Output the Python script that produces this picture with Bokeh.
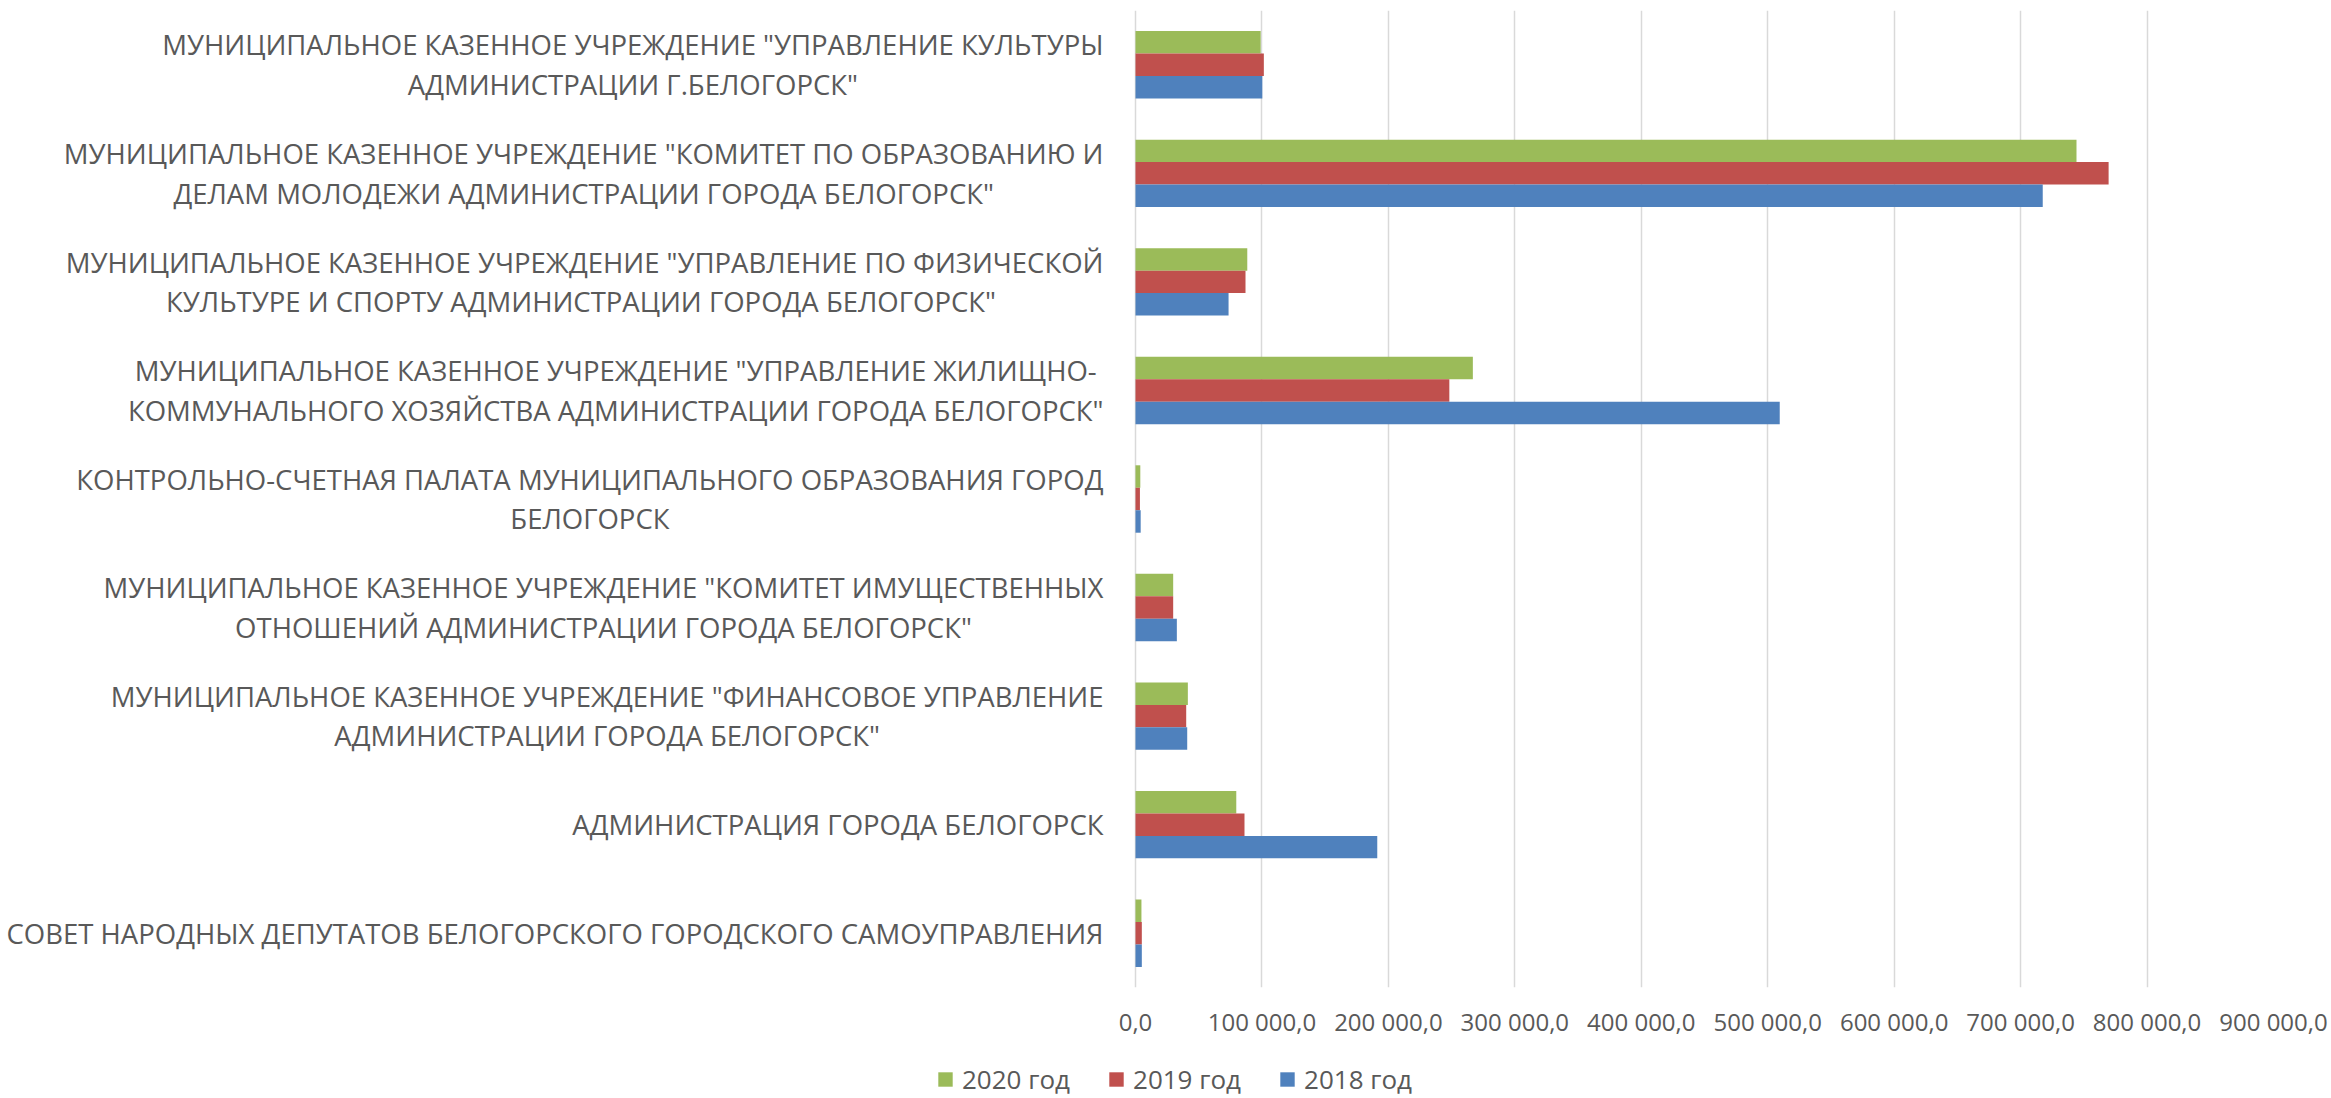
from bokeh.plotting import figure
from bokeh.models import Range1d, FixedTicker, Label, Legend, LegendItem, ColumnDataSource
from bokeh.layouts import column
from bokeh.embed import file_html
from bokeh.resources import INLINE

# ---- data (top to bottom) ----
categories = [
    'МУНИЦИПАЛЬНОЕ КАЗЕННОЕ УЧРЕЖДЕНИЕ "УПРАВЛЕНИЕ КУЛЬТУРЫ\nАДМИНИСТРАЦИИ Г.БЕЛОГОРСК"',
    'МУНИЦИПАЛЬНОЕ КАЗЕННОЕ УЧРЕЖДЕНИЕ "КОМИТЕТ ПО ОБРАЗОВАНИЮ И\nДЕЛАМ МОЛОДЕЖИ АДМИНИСТРАЦИИ ГОРОДА БЕЛОГОРСК"',
    'МУНИЦИПАЛЬНОЕ КАЗЕННОЕ УЧРЕЖДЕНИЕ "УПРАВЛЕНИЕ ПО ФИЗИЧЕСКОЙ\nКУЛЬТУРЕ И СПОРТУ  АДМИНИСТРАЦИИ ГОРОДА БЕЛОГОРСК"',
    'МУНИЦИПАЛЬНОЕ КАЗЕННОЕ УЧРЕЖДЕНИЕ "УПРАВЛЕНИЕ ЖИЛИЩНО-\nКОММУНАЛЬНОГО ХОЗЯЙСТВА АДМИНИСТРАЦИИ ГОРОДА БЕЛОГОРСК"',
    'КОНТРОЛЬНО-СЧЕТНАЯ ПАЛАТА МУНИЦИПАЛЬНОГО ОБРАЗОВАНИЯ ГОРОД\nБЕЛОГОРСК',
    'МУНИЦИПАЛЬНОЕ КАЗЕННОЕ УЧРЕЖДЕНИЕ "КОМИТЕТ ИМУЩЕСТВЕННЫХ\nОТНОШЕНИЙ АДМИНИСТРАЦИИ ГОРОДА БЕЛОГОРСК"',
    'МУНИЦИПАЛЬНОЕ КАЗЕННОЕ УЧРЕЖДЕНИЕ "ФИНАНСОВОЕ УПРАВЛЕНИЕ\nАДМИНИСТРАЦИИ ГОРОДА БЕЛОГОРСК"',
    'АДМИНИСТРАЦИЯ ГОРОДА БЕЛОГОРСК',
    'СОВЕТ НАРОДНЫХ ДЕПУТАТОВ БЕЛОГОРСКОГО ГОРОДСКОГО САМОУПРАВЛЕНИЯ',
]
series_names = ["2020 год", "2019 год", "2018 год"]
v2020 = [99000, 744200, 88400, 266800, 3800, 29800, 41400, 79700, 4700]
v2019 = [101500, 769600, 87000, 248200, 3500, 29800, 40100, 86200, 5000]
v2018 = [100300, 717500, 73600, 509500, 4100, 32700, 40900, 191200, 5000]
x_ticks = [0, 100000, 200000, 300000, 400000, 500000, 600000, 700000, 800000, 900000]
x_tick_labels = ["0,0", "100 000,0", "200 000,0", "300 000,0", "400 000,0",
                 "500 000,0", "600 000,0", "700 000,0", "800 000,0", "900 000,0"]

colors = ["#9BBB59", "#C0504D", "#4F81BD"]
FONT = "Open Sans"
TXT = "#595959"

# ---- layout geometry (pixels) ----
W = 2331
ZERO_PX = 1135      # where the value axis starts (label area to the left)
RIGHT_PX = 2273     # right edge of the plotting area
TOP = 10
FRAME_H = 980
AXIS_H = 50
TOTAL_H = 1096
LEG_H = TOTAL_H - (TOP + FRAME_H + AXIS_H)

n = len(categories)
bar_h = 0.207
x_max = x_ticks[-1]
x_min = -x_max * ZERO_PX / (RIGHT_PX - ZERO_PX)

p = figure(width=W, height=TOP + FRAME_H + AXIS_H, output_backend="svg", toolbar_location=None,
           x_range=Range1d(x_min, x_max), y_range=Range1d(n - 0.5, -0.5),
           min_border_left=0, min_border_right=W - RIGHT_PX, min_border_top=TOP,
           min_border_bottom=AXIS_H)
p.outline_line_color = None
p.background_fill_color = "white"
p.border_fill_color = "white"

for vals, col, off in zip([v2020, v2019, v2018], colors, [-bar_h, 0.0, bar_h]):
    src = ColumnDataSource(dict(y=[i + off for i in range(n)], right=vals))
    p.hbar(y="y", left=0, right="right", height=bar_h, source=src,
           fill_color=col, line_color=None)

# axes
p.yaxis.visible = False
p.ygrid.visible = False
ticker = FixedTicker(ticks=x_ticks)
p.xaxis.ticker = ticker
p.xgrid.ticker = ticker
p.xaxis.major_label_overrides = {t: l for t, l in zip(x_ticks, x_tick_labels)}
p.xaxis.axis_line_color = None
p.xaxis.major_tick_line_color = None
p.xaxis.minor_tick_line_color = None
p.xaxis.major_tick_out = 0
p.xaxis.major_label_standoff = 17
p.xaxis.major_label_text_font = FONT
p.xaxis.major_label_text_font_size = "24px"
p.xaxis.major_label_text_color = TXT
p.xgrid.grid_line_color = "#D9D9D9"
p.xgrid.grid_line_width = 1.5

# category labels
for i, cat in enumerate(categories):
    p.add_layout(Label(x=0, y=i, x_units="data", y_units="data", x_offset=-32,
                       text=cat, anchor="center_right", text_align="center",
                       text_baseline="middle", text_font=FONT, text_font_size="27.5px",
                       text_color=TXT, text_line_height=1.07))

# legend strip
lg = figure(width=W, height=LEG_H, output_backend="svg", toolbar_location=None,
            x_range=Range1d(0, W), y_range=Range1d(0, LEG_H),
            min_border_left=0, min_border_right=0, min_border_top=0, min_border_bottom=0)
lg.axis.visible = False
lg.grid.visible = False
lg.outline_line_color = None
items = []
for col, name in zip(colors, series_names):
    # legend swatch source: one bar placed outside the visible strip
    r = lg.hbar(y=[-1000], left=[0], right=[1], height=1, fill_color=col, line_color=None)
    items.append(LegendItem(label=name, renderers=[r]))
legend = Legend(items=items, orientation="horizontal", location=(936, -1),
                glyph_width=18, glyph_height=18, label_standoff=8, spacing=37,
                padding=0, margin=0, border_line_color=None, background_fill_alpha=0,
                label_text_font=FONT, label_text_font_size="26px", label_text_color=TXT)
lg.add_layout(legend, "center")

layout = column(p, lg, spacing=0)
open("out.html", "w").write(file_html(layout, INLINE))
